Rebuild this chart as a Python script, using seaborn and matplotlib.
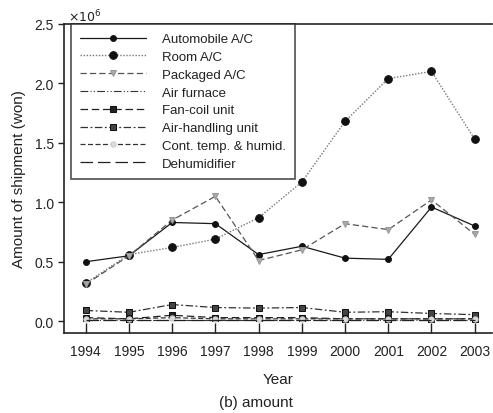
import matplotlib
matplotlib.use("Agg")
import matplotlib.pyplot as plt
import seaborn as sns
import pandas as pd

years = [1994, 1995, 1996, 1997, 1998, 1999, 2000, 2001, 2002, 2003]

# shipment amounts in units of 1e6 won
automobile_ac = [0.50, 0.55, 0.83, 0.82, 0.56, 0.63, 0.53, 0.52, 0.96, 0.80]
room_ac = [0.32, 0.56, 0.62, 0.69, 0.87, 1.17, 1.68, 2.04, 2.10, 1.53]
packaged_ac = [0.31, 0.55, 0.85, 1.05, 0.51, 0.60, 0.82, 0.77, 1.02, 0.73]
air_furnace = [0.01, 0.01, 0.01, 0.01, 0.01, 0.01, 0.01, 0.01, 0.01, 0.01]
fan_coil = [0.03, 0.02, 0.05, 0.03, 0.03, 0.03, 0.02, 0.02, 0.02, 0.02]
air_handling = [0.09, 0.075, 0.14, 0.115, 0.11, 0.115, 0.075, 0.08, 0.065, 0.055]
cont_temp = [0.02, 0.02, 0.03, 0.02, 0.02, 0.02, 0.02, 0.02, 0.02, 0.02]
dehumidifier = [0.01, 0.01, 0.01, 0.01, 0.01, 0.01, 0.01, 0.01, 0.01, 0.01]

labels = ["Automobile A/C", "Room A/C", "Packaged A/C", "Air furnace",
          "Fan-coil unit", "Air-handling unit", "Cont. temp. & humid.",
          "Dehumidifier"]
series = [automobile_ac, room_ac, packaged_ac, air_furnace,
          fan_coil, air_handling, cont_temp, dehumidifier]

styles = [
    dict(color="#1a1a1a", ls="-", lw=0.9, marker="o", ms=4.2, mfc="#111111", mec="#111111"),
    dict(color="#777777", ls=(0, (1, 1.2)), lw=1.0, marker="o", ms=5.5, mfc="#111111", mec="#111111"),
    dict(color="#555555", ls=(0, (5, 2.5)), lw=0.9, marker="v", ms=4.5, mfc="#aaaaaa", mec="#999999"),
    dict(color="#333333", ls=(0, (7, 2, 1, 2, 1, 2)), lw=0.8, marker=None, ms=0, mfc="none", mec="none"),
    dict(color="#222222", ls=(0, (6, 3)), lw=0.9, marker="s", ms=3.8, mfc="#222222", mec="#111111"),
    dict(color="#333333", ls=(0, (6, 2, 1.5, 2)), lw=0.9, marker="s", ms=3.8, mfc="#444444", mec="#111111"),
    dict(color="#333333", ls=(0, (4, 2)), lw=0.9, marker="o", ms=3.8, mfc="#dddddd", mec="#cccccc"),
    dict(color="#222222", ls=(0, (10, 4)), lw=0.9, marker=None, ms=0, mfc="none", mec="none"),
]

sns.set_style("ticks")
plt.rcParams["font.family"] = ["Liberation Sans", "DejaVu Sans"]

fig = plt.figure(figsize=(4.93, 4.14), dpi=100)
ax = fig.add_axes([0.13, 0.193, 0.868, 0.747])

for lab, vals, st in zip(labels, series, styles):
    df = pd.DataFrame({"Year": years, "value": vals})
    sns.lineplot(data=df, x="Year", y="value", ax=ax, label=lab,
                 color=st["color"], linestyle=st["ls"], linewidth=st["lw"],
                 marker=st["marker"], markersize=st["ms"],
                 markerfacecolor=st["mfc"], markeredgecolor=st["mec"])

ax.set_xlim(1993.5, 2003.4)
ax.set_ylim(-0.1, 2.5)
ax.set_xticks(years)
ax.set_xticklabels([str(y) for y in years], fontsize=10)
ax.set_yticks([0.0, 0.5, 1.0, 1.5, 2.0, 2.5])
ax.set_yticklabels(["0.0", "0.5", "1.0", "1.5", "2.0", "2.5"], fontsize=10)
ax.tick_params(axis="x", direction="in", length=7, width=1, colors="#222222", pad=8)
ax.tick_params(axis="y", direction="out", length=4, width=1, colors="#222222")
ax.tick_params(labelcolor="#222222")
ax.text(0.01, 1.0, r"$\times10^6$", transform=ax.transAxes, fontsize=9,
        ha="left", va="bottom", color="#222222")

for side in ["left", "bottom", "top"]:
    ax.spines[side].set_color("#222222")
    ax.spines[side].set_linewidth(1.2)
ax.spines["right"].set_visible(False)

ax.set_ylabel("Amount of shipment (won)", fontsize=11, color="#222222", labelpad=6)
ax.set_xlabel("Year", fontsize=11, color="#222222", labelpad=10)
fig.text(0.52, 0.01, "(b) amount", ha="center", va="bottom", fontsize=11, color="#222222")

leg = ax.legend(loc="upper left", bbox_to_anchor=(0.015, 1.0), fontsize=9.5,
                frameon=True, fancybox=False, handlelength=5.0, handletextpad=1.2,
                labelspacing=0.42, borderpad=0.7, borderaxespad=0.0)
leg.get_frame().set_edgecolor("#222222")
leg.get_frame().set_linewidth(1.2)
for t in leg.get_texts():
    t.set_color("#222222")

fig.savefig("out.png", dpi=100)
